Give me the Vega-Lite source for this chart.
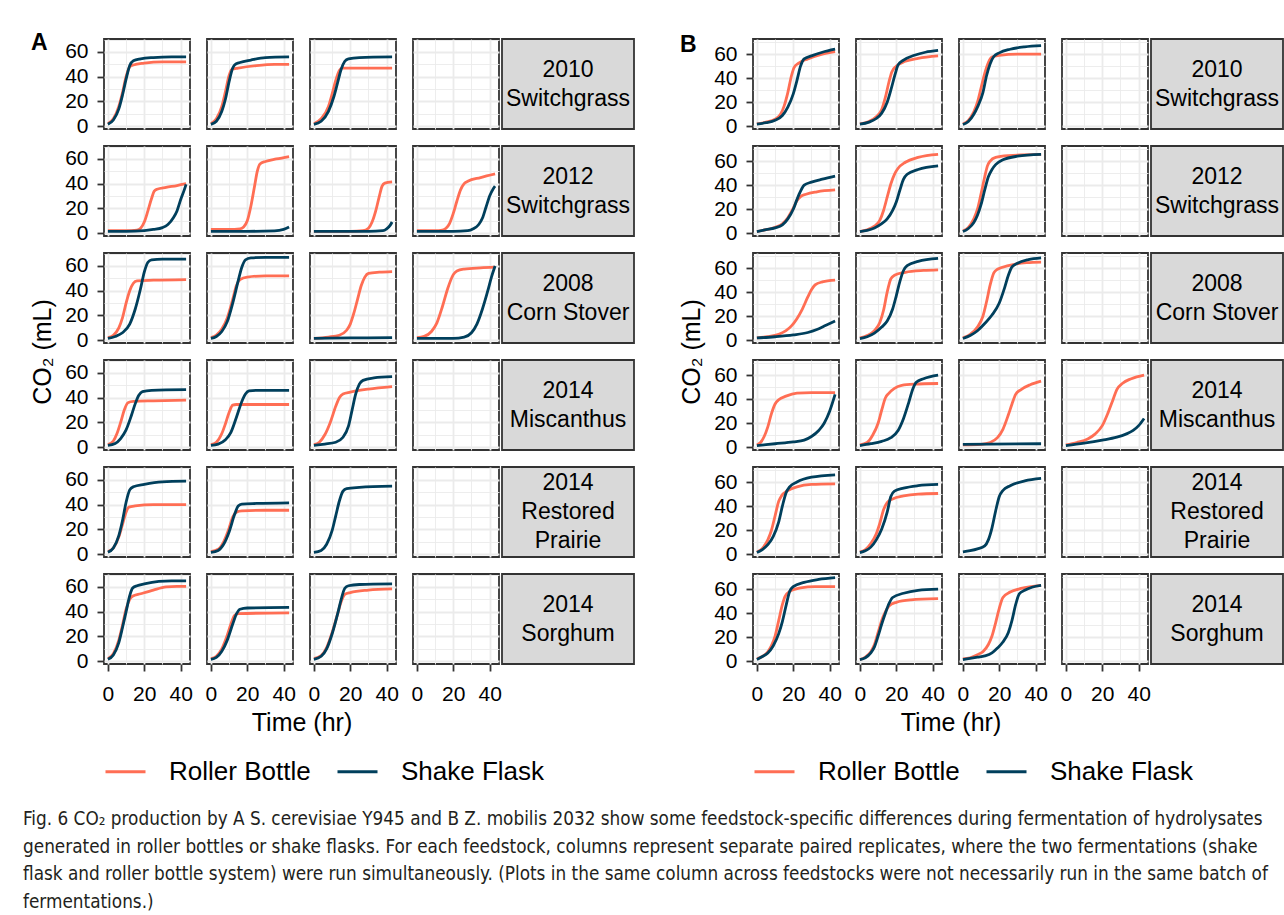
{
"$schema": "https://vega.github.io/schema/vega-lite/v6.json",
"padding": {"left": 22, "top": 28, "right": 2, "bottom": 4},
"config": {
  "font": "Liberation Sans",
  "view": {"stroke": "#333333", "strokeWidth": 1.8},
  "axis": {"gridColor": "#EBEBEB", "tickColor": "#333333", "tickWidth": 1.8, "tickSize": 7, "labelFontSize": 21, "labelColor": "#000000", "titleFontSize": 25, "titleFontWeight": "normal", "titleColor": "#000000", "domain": false, "labelFlush": false, "labelOverlap": false},
  "axisX": {"labelPadding": 12},
  "axisY": {"labelPadding": 9},
  "header": {"titleFontSize": 25, "titleFontWeight": "normal", "titleColor": "#000000", "titleFont": "Liberation Sans"},
  "legend": {"title": null, "orient": "bottom", "direction": "horizontal", "symbolType": "stroke", "symbolSize": 1600, "symbolStrokeWidth": 3, "labelFontSize": 26, "labelColor": "#000000", "labelOffset": 22, "columnPadding": 20, "offset": 14}
},
"datasets": {
"labels": [{"f":1,"label":"2010\nSwitchgrass"},{"f":2,"label":"2012\nSwitchgrass"},{"f":3,"label":"2008\nCorn Stover"},{"f":4,"label":"2014\nMiscanthus"},{"f":5,"label":"2014\nRestored\nPrairie"},{"f":6,"label":"2014\nSorghum"}],
"A": [
{"f":1,"c":1,"s":"RB","t":0,"y":2},{"f":1,"c":1,"s":"RB","t":3,"y":6},{"f":1,"c":1,"s":"RB","t":6,"y":16},{"f":1,"c":1,"s":"RB","t":8,"y":27},{"f":1,"c":1,"s":"RB","t":10,"y":40},{"f":1,"c":1,"s":"RB","t":12,"y":48},{"f":1,"c":1,"s":"RB","t":14,"y":49.5},{"f":1,"c":1,"s":"RB","t":20,"y":51},{"f":1,"c":1,"s":"RB","t":30,"y":52},{"f":1,"c":1,"s":"RB","t":43,"y":52},
{"f":1,"c":1,"s":"SF","t":0,"y":1.5},{"f":1,"c":1,"s":"SF","t":3,"y":5},{"f":1,"c":1,"s":"SF","t":6,"y":14},{"f":1,"c":1,"s":"SF","t":8,"y":25},{"f":1,"c":1,"s":"SF","t":10,"y":38},{"f":1,"c":1,"s":"SF","t":12,"y":49},{"f":1,"c":1,"s":"SF","t":14,"y":53},{"f":1,"c":1,"s":"SF","t":18,"y":54.5},{"f":1,"c":1,"s":"SF","t":25,"y":55.5},{"f":1,"c":1,"s":"SF","t":35,"y":56},{"f":1,"c":1,"s":"SF","t":43,"y":56},
{"f":1,"c":2,"s":"RB","t":0,"y":2},{"f":1,"c":2,"s":"RB","t":3,"y":6},{"f":1,"c":2,"s":"RB","t":6,"y":16},{"f":1,"c":2,"s":"RB","t":8,"y":28},{"f":1,"c":2,"s":"RB","t":10,"y":41},{"f":1,"c":2,"s":"RB","t":11.5,"y":46},{"f":1,"c":2,"s":"RB","t":15,"y":47},{"f":1,"c":2,"s":"RB","t":25,"y":49},{"f":1,"c":2,"s":"RB","t":35,"y":50},{"f":1,"c":2,"s":"RB","t":43,"y":50},
{"f":1,"c":2,"s":"SF","t":0,"y":1.5},{"f":1,"c":2,"s":"SF","t":3,"y":4},{"f":1,"c":2,"s":"SF","t":6,"y":12},{"f":1,"c":2,"s":"SF","t":8,"y":22},{"f":1,"c":2,"s":"SF","t":10,"y":36},{"f":1,"c":2,"s":"SF","t":12,"y":47},{"f":1,"c":2,"s":"SF","t":13,"y":49.5},{"f":1,"c":2,"s":"SF","t":16,"y":51.5},{"f":1,"c":2,"s":"SF","t":22,"y":53.5},{"f":1,"c":2,"s":"SF","t":30,"y":55.5},{"f":1,"c":2,"s":"SF","t":43,"y":56},
{"f":1,"c":3,"s":"RB","t":0,"y":2},{"f":1,"c":3,"s":"RB","t":4,"y":6},{"f":1,"c":3,"s":"RB","t":8,"y":16},{"f":1,"c":3,"s":"RB","t":10,"y":26},{"f":1,"c":3,"s":"RB","t":12,"y":37},{"f":1,"c":3,"s":"RB","t":14,"y":45},{"f":1,"c":3,"s":"RB","t":15.5,"y":47},{"f":1,"c":3,"s":"RB","t":20,"y":47},{"f":1,"c":3,"s":"RB","t":43,"y":47},
{"f":1,"c":3,"s":"SF","t":0,"y":1.5},{"f":1,"c":3,"s":"SF","t":4,"y":4},{"f":1,"c":3,"s":"SF","t":8,"y":12},{"f":1,"c":3,"s":"SF","t":11,"y":24},{"f":1,"c":3,"s":"SF","t":13,"y":35},{"f":1,"c":3,"s":"SF","t":15,"y":46},{"f":1,"c":3,"s":"SF","t":17,"y":52.5},{"f":1,"c":3,"s":"SF","t":19,"y":54.5},{"f":1,"c":3,"s":"SF","t":25,"y":55.5},{"f":1,"c":3,"s":"SF","t":43,"y":56},
{"f":1,"c":4,"s":"SF","t":0,"y":null},
{"f":2,"c":1,"s":"RB","t":0,"y":2},{"f":2,"c":1,"s":"RB","t":10,"y":2},{"f":2,"c":1,"s":"RB","t":16,"y":2.5},{"f":2,"c":1,"s":"RB","t":18,"y":4},{"f":2,"c":1,"s":"RB","t":20,"y":9},{"f":2,"c":1,"s":"RB","t":22,"y":18},{"f":2,"c":1,"s":"RB","t":24,"y":28},{"f":2,"c":1,"s":"RB","t":25.5,"y":34},{"f":2,"c":1,"s":"RB","t":27,"y":35.5},{"f":2,"c":1,"s":"RB","t":32,"y":37},{"f":2,"c":1,"s":"RB","t":38,"y":38.5},{"f":2,"c":1,"s":"RB","t":43,"y":40},
{"f":2,"c":1,"s":"SF","t":0,"y":1.5},{"f":2,"c":1,"s":"SF","t":10,"y":1.5},{"f":2,"c":1,"s":"SF","t":20,"y":2},{"f":2,"c":1,"s":"SF","t":25,"y":3},{"f":2,"c":1,"s":"SF","t":30,"y":4.5},{"f":2,"c":1,"s":"SF","t":33,"y":7},{"f":2,"c":1,"s":"SF","t":36,"y":12.5},{"f":2,"c":1,"s":"SF","t":38,"y":18},{"f":2,"c":1,"s":"SF","t":40,"y":27},{"f":2,"c":1,"s":"SF","t":42,"y":35},{"f":2,"c":1,"s":"SF","t":43,"y":39.5},
{"f":2,"c":2,"s":"RB","t":0,"y":3},{"f":2,"c":2,"s":"RB","t":10,"y":3},{"f":2,"c":2,"s":"RB","t":16,"y":3.5},{"f":2,"c":2,"s":"RB","t":18,"y":5},{"f":2,"c":2,"s":"RB","t":20,"y":10},{"f":2,"c":2,"s":"RB","t":22,"y":22},{"f":2,"c":2,"s":"RB","t":24,"y":38},{"f":2,"c":2,"s":"RB","t":25.5,"y":50},{"f":2,"c":2,"s":"RB","t":27,"y":56},{"f":2,"c":2,"s":"RB","t":30,"y":58},{"f":2,"c":2,"s":"RB","t":36,"y":60},{"f":2,"c":2,"s":"RB","t":43,"y":62},
{"f":2,"c":2,"s":"SF","t":0,"y":1.5},{"f":2,"c":2,"s":"SF","t":20,"y":1.5},{"f":2,"c":2,"s":"SF","t":35,"y":1.8},{"f":2,"c":2,"s":"SF","t":40,"y":3},{"f":2,"c":2,"s":"SF","t":43,"y":5},
{"f":2,"c":3,"s":"RB","t":0,"y":1.5},{"f":2,"c":3,"s":"RB","t":20,"y":1.5},{"f":2,"c":3,"s":"RB","t":27,"y":2},{"f":2,"c":3,"s":"RB","t":30,"y":4},{"f":2,"c":3,"s":"RB","t":32,"y":9},{"f":2,"c":3,"s":"RB","t":34,"y":18},{"f":2,"c":3,"s":"RB","t":36,"y":30},{"f":2,"c":3,"s":"RB","t":37.5,"y":38},{"f":2,"c":3,"s":"RB","t":39,"y":40.5},{"f":2,"c":3,"s":"RB","t":43,"y":41.5},
{"f":2,"c":3,"s":"SF","t":0,"y":1.5},{"f":2,"c":3,"s":"SF","t":30,"y":1.5},{"f":2,"c":3,"s":"SF","t":38,"y":2},{"f":2,"c":3,"s":"SF","t":40,"y":3.5},{"f":2,"c":3,"s":"SF","t":42,"y":6.5},{"f":2,"c":3,"s":"SF","t":43,"y":9},
{"f":2,"c":4,"s":"RB","t":0,"y":2},{"f":2,"c":4,"s":"RB","t":10,"y":2},{"f":2,"c":4,"s":"RB","t":14,"y":2.5},{"f":2,"c":4,"s":"RB","t":16,"y":4},{"f":2,"c":4,"s":"RB","t":18,"y":8},{"f":2,"c":4,"s":"RB","t":20,"y":16},{"f":2,"c":4,"s":"RB","t":22,"y":26},{"f":2,"c":4,"s":"RB","t":24,"y":35},{"f":2,"c":4,"s":"RB","t":26,"y":40},{"f":2,"c":4,"s":"RB","t":28,"y":42},{"f":2,"c":4,"s":"RB","t":35,"y":45},{"f":2,"c":4,"s":"RB","t":43,"y":48},
{"f":2,"c":4,"s":"SF","t":0,"y":1.5},{"f":2,"c":4,"s":"SF","t":20,"y":1.5},{"f":2,"c":4,"s":"SF","t":28,"y":2},{"f":2,"c":4,"s":"SF","t":31,"y":3.5},{"f":2,"c":4,"s":"SF","t":34,"y":7},{"f":2,"c":4,"s":"SF","t":36,"y":12},{"f":2,"c":4,"s":"SF","t":38,"y":21},{"f":2,"c":4,"s":"SF","t":40,"y":30},{"f":2,"c":4,"s":"SF","t":42,"y":36},{"f":2,"c":4,"s":"SF","t":43,"y":38},
{"f":3,"c":1,"s":"RB","t":0,"y":2},{"f":3,"c":1,"s":"RB","t":3,"y":4},{"f":3,"c":1,"s":"RB","t":6,"y":10},{"f":3,"c":1,"s":"RB","t":8,"y":18},{"f":3,"c":1,"s":"RB","t":10,"y":30},{"f":3,"c":1,"s":"RB","t":12,"y":40},{"f":3,"c":1,"s":"RB","t":14,"y":46},{"f":3,"c":1,"s":"RB","t":16,"y":48},{"f":3,"c":1,"s":"RB","t":25,"y":48.5},{"f":3,"c":1,"s":"RB","t":43,"y":49},
{"f":3,"c":1,"s":"SF","t":0,"y":1.5},{"f":3,"c":1,"s":"SF","t":4,"y":3},{"f":3,"c":1,"s":"SF","t":8,"y":6},{"f":3,"c":1,"s":"SF","t":12,"y":13},{"f":3,"c":1,"s":"SF","t":15,"y":25},{"f":3,"c":1,"s":"SF","t":18,"y":42},{"f":3,"c":1,"s":"SF","t":20,"y":55},{"f":3,"c":1,"s":"SF","t":22,"y":63},{"f":3,"c":1,"s":"SF","t":24,"y":65},{"f":3,"c":1,"s":"SF","t":30,"y":65.5},{"f":3,"c":1,"s":"SF","t":43,"y":65.5},
{"f":3,"c":2,"s":"RB","t":0,"y":2},{"f":3,"c":2,"s":"RB","t":3,"y":4},{"f":3,"c":2,"s":"RB","t":6,"y":9},{"f":3,"c":2,"s":"RB","t":9,"y":18},{"f":3,"c":2,"s":"RB","t":12,"y":33},{"f":3,"c":2,"s":"RB","t":14,"y":44},{"f":3,"c":2,"s":"RB","t":16,"y":49},{"f":3,"c":2,"s":"RB","t":20,"y":51},{"f":3,"c":2,"s":"RB","t":30,"y":52},{"f":3,"c":2,"s":"RB","t":43,"y":52},
{"f":3,"c":2,"s":"SF","t":0,"y":1.5},{"f":3,"c":2,"s":"SF","t":3,"y":3},{"f":3,"c":2,"s":"SF","t":6,"y":7},{"f":3,"c":2,"s":"SF","t":9,"y":15},{"f":3,"c":2,"s":"SF","t":12,"y":30},{"f":3,"c":2,"s":"SF","t":15,"y":48},{"f":3,"c":2,"s":"SF","t":17,"y":59},{"f":3,"c":2,"s":"SF","t":19,"y":65},{"f":3,"c":2,"s":"SF","t":22,"y":66.5},{"f":3,"c":2,"s":"SF","t":30,"y":67},{"f":3,"c":2,"s":"SF","t":43,"y":67},
{"f":3,"c":3,"s":"RB","t":0,"y":1.5},{"f":3,"c":3,"s":"RB","t":8,"y":2.5},{"f":3,"c":3,"s":"RB","t":14,"y":4},{"f":3,"c":3,"s":"RB","t":18,"y":8},{"f":3,"c":3,"s":"RB","t":20,"y":13},{"f":3,"c":3,"s":"RB","t":22,"y":22},{"f":3,"c":3,"s":"RB","t":24,"y":33},{"f":3,"c":3,"s":"RB","t":26,"y":44},{"f":3,"c":3,"s":"RB","t":28,"y":51},{"f":3,"c":3,"s":"RB","t":30,"y":54},{"f":3,"c":3,"s":"RB","t":36,"y":55},{"f":3,"c":3,"s":"RB","t":43,"y":55.5},
{"f":3,"c":3,"s":"SF","t":0,"y":1.5},{"f":3,"c":3,"s":"SF","t":20,"y":1.8},{"f":3,"c":3,"s":"SF","t":43,"y":2},
{"f":3,"c":4,"s":"RB","t":0,"y":2},{"f":3,"c":4,"s":"RB","t":4,"y":3},{"f":3,"c":4,"s":"RB","t":8,"y":7},{"f":3,"c":4,"s":"RB","t":11,"y":14},{"f":3,"c":4,"s":"RB","t":14,"y":27},{"f":3,"c":4,"s":"RB","t":17,"y":42},{"f":3,"c":4,"s":"RB","t":20,"y":53},{"f":3,"c":4,"s":"RB","t":22,"y":56},{"f":3,"c":4,"s":"RB","t":26,"y":57.5},{"f":3,"c":4,"s":"RB","t":35,"y":58.5},{"f":3,"c":4,"s":"RB","t":43,"y":59},
{"f":3,"c":4,"s":"SF","t":0,"y":1.5},{"f":3,"c":4,"s":"SF","t":20,"y":1.5},{"f":3,"c":4,"s":"SF","t":26,"y":2.5},{"f":3,"c":4,"s":"SF","t":30,"y":6},{"f":3,"c":4,"s":"SF","t":33,"y":13},{"f":3,"c":4,"s":"SF","t":36,"y":25},{"f":3,"c":4,"s":"SF","t":39,"y":40},{"f":3,"c":4,"s":"SF","t":41,"y":51},{"f":3,"c":4,"s":"SF","t":43,"y":60},
{"f":4,"c":1,"s":"RB","t":0,"y":2},{"f":4,"c":1,"s":"RB","t":3,"y":5},{"f":4,"c":1,"s":"RB","t":5,"y":11},{"f":4,"c":1,"s":"RB","t":7,"y":20},{"f":4,"c":1,"s":"RB","t":9,"y":30},{"f":4,"c":1,"s":"RB","t":11,"y":36},{"f":4,"c":1,"s":"RB","t":14,"y":37},{"f":4,"c":1,"s":"RB","t":25,"y":37.5},{"f":4,"c":1,"s":"RB","t":43,"y":38},
{"f":4,"c":1,"s":"SF","t":0,"y":1.5},{"f":4,"c":1,"s":"SF","t":4,"y":3},{"f":4,"c":1,"s":"SF","t":7,"y":7},{"f":4,"c":1,"s":"SF","t":10,"y":14},{"f":4,"c":1,"s":"SF","t":13,"y":26},{"f":4,"c":1,"s":"SF","t":15,"y":35},{"f":4,"c":1,"s":"SF","t":17,"y":42},{"f":4,"c":1,"s":"SF","t":19,"y":45},{"f":4,"c":1,"s":"SF","t":24,"y":46},{"f":4,"c":1,"s":"SF","t":43,"y":46.5},
{"f":4,"c":2,"s":"RB","t":0,"y":2},{"f":4,"c":2,"s":"RB","t":3,"y":4},{"f":4,"c":2,"s":"RB","t":6,"y":11},{"f":4,"c":2,"s":"RB","t":8,"y":19},{"f":4,"c":2,"s":"RB","t":10,"y":28},{"f":4,"c":2,"s":"RB","t":12,"y":34},{"f":4,"c":2,"s":"RB","t":14,"y":34.5},{"f":4,"c":2,"s":"RB","t":43,"y":34.5},
{"f":4,"c":2,"s":"SF","t":0,"y":1.5},{"f":4,"c":2,"s":"SF","t":4,"y":2.5},{"f":4,"c":2,"s":"SF","t":8,"y":6},{"f":4,"c":2,"s":"SF","t":11,"y":12},{"f":4,"c":2,"s":"SF","t":14,"y":24},{"f":4,"c":2,"s":"SF","t":17,"y":37},{"f":4,"c":2,"s":"SF","t":19,"y":43},{"f":4,"c":2,"s":"SF","t":21,"y":45.5},{"f":4,"c":2,"s":"SF","t":26,"y":46},{"f":4,"c":2,"s":"SF","t":43,"y":46},
{"f":4,"c":3,"s":"RB","t":0,"y":2},{"f":4,"c":3,"s":"RB","t":3,"y":4},{"f":4,"c":3,"s":"RB","t":6,"y":10},{"f":4,"c":3,"s":"RB","t":9,"y":20},{"f":4,"c":3,"s":"RB","t":12,"y":33},{"f":4,"c":3,"s":"RB","t":14,"y":40},{"f":4,"c":3,"s":"RB","t":16,"y":43},{"f":4,"c":3,"s":"RB","t":20,"y":44.5},{"f":4,"c":3,"s":"RB","t":30,"y":47},{"f":4,"c":3,"s":"RB","t":43,"y":49},
{"f":4,"c":3,"s":"SF","t":0,"y":1.5},{"f":4,"c":3,"s":"SF","t":6,"y":2.5},{"f":4,"c":3,"s":"SF","t":12,"y":4},{"f":4,"c":3,"s":"SF","t":16,"y":8},{"f":4,"c":3,"s":"SF","t":19,"y":17},{"f":4,"c":3,"s":"SF","t":21,"y":30},{"f":4,"c":3,"s":"SF","t":23,"y":43},{"f":4,"c":3,"s":"SF","t":25,"y":51},{"f":4,"c":3,"s":"SF","t":27,"y":54},{"f":4,"c":3,"s":"SF","t":33,"y":56},{"f":4,"c":3,"s":"SF","t":43,"y":57},
{"f":4,"c":4,"s":"SF","t":0,"y":null},
{"f":5,"c":1,"s":"RB","t":0,"y":2},{"f":5,"c":1,"s":"RB","t":3,"y":5},{"f":5,"c":1,"s":"RB","t":6,"y":14},{"f":5,"c":1,"s":"RB","t":8,"y":24},{"f":5,"c":1,"s":"RB","t":10,"y":34},{"f":5,"c":1,"s":"RB","t":11.5,"y":38},{"f":5,"c":1,"s":"RB","t":15,"y":39},{"f":5,"c":1,"s":"RB","t":25,"y":40},{"f":5,"c":1,"s":"RB","t":43,"y":40},
{"f":5,"c":1,"s":"SF","t":0,"y":1.5},{"f":5,"c":1,"s":"SF","t":3,"y":5},{"f":5,"c":1,"s":"SF","t":6,"y":15},{"f":5,"c":1,"s":"SF","t":8,"y":27},{"f":5,"c":1,"s":"SF","t":10,"y":42},{"f":5,"c":1,"s":"SF","t":12,"y":52},{"f":5,"c":1,"s":"SF","t":14,"y":54.5},{"f":5,"c":1,"s":"SF","t":20,"y":56.5},{"f":5,"c":1,"s":"SF","t":30,"y":58.5},{"f":5,"c":1,"s":"SF","t":43,"y":59},
{"f":5,"c":2,"s":"RB","t":0,"y":2},{"f":5,"c":2,"s":"RB","t":4,"y":4},{"f":5,"c":2,"s":"RB","t":7,"y":10},{"f":5,"c":2,"s":"RB","t":10,"y":21},{"f":5,"c":2,"s":"RB","t":12,"y":30},{"f":5,"c":2,"s":"RB","t":14,"y":34},{"f":5,"c":2,"s":"RB","t":17,"y":35},{"f":5,"c":2,"s":"RB","t":30,"y":35.5},{"f":5,"c":2,"s":"RB","t":43,"y":35.5},
{"f":5,"c":2,"s":"SF","t":0,"y":1.5},{"f":5,"c":2,"s":"SF","t":4,"y":3},{"f":5,"c":2,"s":"SF","t":7,"y":8},{"f":5,"c":2,"s":"SF","t":10,"y":18},{"f":5,"c":2,"s":"SF","t":13,"y":32},{"f":5,"c":2,"s":"SF","t":15,"y":39},{"f":5,"c":2,"s":"SF","t":17,"y":40.5},{"f":5,"c":2,"s":"SF","t":25,"y":41},{"f":5,"c":2,"s":"SF","t":43,"y":41.5},
{"f":5,"c":3,"s":"SF","t":0,"y":1.5},{"f":5,"c":3,"s":"SF","t":4,"y":3},{"f":5,"c":3,"s":"SF","t":7,"y":8},{"f":5,"c":3,"s":"SF","t":10,"y":19},{"f":5,"c":3,"s":"SF","t":12,"y":31},{"f":5,"c":3,"s":"SF","t":14,"y":43},{"f":5,"c":3,"s":"SF","t":16,"y":51},{"f":5,"c":3,"s":"SF","t":18,"y":53},{"f":5,"c":3,"s":"SF","t":25,"y":54},{"f":5,"c":3,"s":"SF","t":43,"y":55},
{"f":5,"c":4,"s":"SF","t":0,"y":null},
{"f":6,"c":1,"s":"RB","t":0,"y":2},{"f":6,"c":1,"s":"RB","t":3,"y":6},{"f":6,"c":1,"s":"RB","t":6,"y":17},{"f":6,"c":1,"s":"RB","t":8,"y":29},{"f":6,"c":1,"s":"RB","t":10,"y":42},{"f":6,"c":1,"s":"RB","t":12,"y":50},{"f":6,"c":1,"s":"RB","t":13.5,"y":52.5},{"f":6,"c":1,"s":"RB","t":18,"y":54.5},{"f":6,"c":1,"s":"RB","t":25,"y":57.5},{"f":6,"c":1,"s":"RB","t":32,"y":60},{"f":6,"c":1,"s":"RB","t":38,"y":60.5},{"f":6,"c":1,"s":"RB","t":43,"y":60.5},
{"f":6,"c":1,"s":"SF","t":0,"y":1.5},{"f":6,"c":1,"s":"SF","t":3,"y":5},{"f":6,"c":1,"s":"SF","t":6,"y":15},{"f":6,"c":1,"s":"SF","t":8,"y":27},{"f":6,"c":1,"s":"SF","t":10,"y":40},{"f":6,"c":1,"s":"SF","t":12,"y":53},{"f":6,"c":1,"s":"SF","t":13.5,"y":59},{"f":6,"c":1,"s":"SF","t":16,"y":61},{"f":6,"c":1,"s":"SF","t":20,"y":62.5},{"f":6,"c":1,"s":"SF","t":28,"y":64.5},{"f":6,"c":1,"s":"SF","t":35,"y":65},{"f":6,"c":1,"s":"SF","t":43,"y":65},
{"f":6,"c":2,"s":"RB","t":0,"y":2},{"f":6,"c":2,"s":"RB","t":3,"y":4},{"f":6,"c":2,"s":"RB","t":6,"y":10},{"f":6,"c":2,"s":"RB","t":9,"y":21},{"f":6,"c":2,"s":"RB","t":11,"y":30},{"f":6,"c":2,"s":"RB","t":13,"y":37},{"f":6,"c":2,"s":"RB","t":15,"y":38.5},{"f":6,"c":2,"s":"RB","t":43,"y":39},
{"f":6,"c":2,"s":"SF","t":0,"y":1.5},{"f":6,"c":2,"s":"SF","t":3,"y":3},{"f":6,"c":2,"s":"SF","t":6,"y":8},{"f":6,"c":2,"s":"SF","t":9,"y":17},{"f":6,"c":2,"s":"SF","t":12,"y":30},{"f":6,"c":2,"s":"SF","t":14,"y":38},{"f":6,"c":2,"s":"SF","t":16,"y":42},{"f":6,"c":2,"s":"SF","t":20,"y":43},{"f":6,"c":2,"s":"SF","t":43,"y":43.5},
{"f":6,"c":3,"s":"RB","t":0,"y":2},{"f":6,"c":3,"s":"RB","t":4,"y":4.5},{"f":6,"c":3,"s":"RB","t":7,"y":11},{"f":6,"c":3,"s":"RB","t":10,"y":23},{"f":6,"c":3,"s":"RB","t":13,"y":38},{"f":6,"c":3,"s":"RB","t":15,"y":48},{"f":6,"c":3,"s":"RB","t":17,"y":54},{"f":6,"c":3,"s":"RB","t":20,"y":55.5},{"f":6,"c":3,"s":"RB","t":30,"y":57.5},{"f":6,"c":3,"s":"RB","t":43,"y":58.5},
{"f":6,"c":3,"s":"SF","t":0,"y":1.5},{"f":6,"c":3,"s":"SF","t":4,"y":4},{"f":6,"c":3,"s":"SF","t":7,"y":10},{"f":6,"c":3,"s":"SF","t":10,"y":22},{"f":6,"c":3,"s":"SF","t":13,"y":38},{"f":6,"c":3,"s":"SF","t":15,"y":50},{"f":6,"c":3,"s":"SF","t":17,"y":59},{"f":6,"c":3,"s":"SF","t":19,"y":61},{"f":6,"c":3,"s":"SF","t":25,"y":62},{"f":6,"c":3,"s":"SF","t":43,"y":62.5},
{"f":6,"c":4,"s":"SF","t":0,"y":null}
],
"B": [
{"f":1,"c":1,"s":"RB","t":0,"y":2},{"f":1,"c":1,"s":"RB","t":5,"y":3.5},{"f":1,"c":1,"s":"RB","t":10,"y":6},{"f":1,"c":1,"s":"RB","t":13,"y":10},{"f":1,"c":1,"s":"RB","t":15,"y":17},{"f":1,"c":1,"s":"RB","t":17,"y":28},{"f":1,"c":1,"s":"RB","t":19,"y":42},{"f":1,"c":1,"s":"RB","t":20.5,"y":49},{"f":1,"c":1,"s":"RB","t":23,"y":52.5},{"f":1,"c":1,"s":"RB","t":28,"y":56},{"f":1,"c":1,"s":"RB","t":35,"y":59.5},{"f":1,"c":1,"s":"RB","t":43,"y":62},
{"f":1,"c":1,"s":"SF","t":0,"y":1.8},{"f":1,"c":1,"s":"SF","t":5,"y":3},{"f":1,"c":1,"s":"SF","t":10,"y":5},{"f":1,"c":1,"s":"SF","t":14,"y":9},{"f":1,"c":1,"s":"SF","t":17,"y":16},{"f":1,"c":1,"s":"SF","t":20,"y":27},{"f":1,"c":1,"s":"SF","t":22,"y":38},{"f":1,"c":1,"s":"SF","t":24,"y":50},{"f":1,"c":1,"s":"SF","t":26,"y":56},{"f":1,"c":1,"s":"SF","t":30,"y":58.5},{"f":1,"c":1,"s":"SF","t":36,"y":61.5},{"f":1,"c":1,"s":"SF","t":43,"y":64},
{"f":1,"c":2,"s":"RB","t":0,"y":2},{"f":1,"c":2,"s":"RB","t":5,"y":4},{"f":1,"c":2,"s":"RB","t":9,"y":8},{"f":1,"c":2,"s":"RB","t":12,"y":14},{"f":1,"c":2,"s":"RB","t":14,"y":24},{"f":1,"c":2,"s":"RB","t":16,"y":37},{"f":1,"c":2,"s":"RB","t":17.5,"y":45},{"f":1,"c":2,"s":"RB","t":20,"y":50},{"f":1,"c":2,"s":"RB","t":25,"y":54},{"f":1,"c":2,"s":"RB","t":32,"y":56.5},{"f":1,"c":2,"s":"RB","t":43,"y":58.5},
{"f":1,"c":2,"s":"SF","t":0,"y":1.8},{"f":1,"c":2,"s":"SF","t":5,"y":3.5},{"f":1,"c":2,"s":"SF","t":9,"y":6.5},{"f":1,"c":2,"s":"SF","t":12,"y":11},{"f":1,"c":2,"s":"SF","t":15,"y":20},{"f":1,"c":2,"s":"SF","t":17,"y":30},{"f":1,"c":2,"s":"SF","t":19.5,"y":44},{"f":1,"c":2,"s":"SF","t":21,"y":51},{"f":1,"c":2,"s":"SF","t":24,"y":55},{"f":1,"c":2,"s":"SF","t":30,"y":59},{"f":1,"c":2,"s":"SF","t":36,"y":61.5},{"f":1,"c":2,"s":"SF","t":43,"y":63},
{"f":1,"c":3,"s":"RB","t":0,"y":2},{"f":1,"c":3,"s":"RB","t":3,"y":5},{"f":1,"c":3,"s":"RB","t":6,"y":12},{"f":1,"c":3,"s":"RB","t":8,"y":20},{"f":1,"c":3,"s":"RB","t":10,"y":32},{"f":1,"c":3,"s":"RB","t":12,"y":44},{"f":1,"c":3,"s":"RB","t":14,"y":53},{"f":1,"c":3,"s":"RB","t":16,"y":57.5},{"f":1,"c":3,"s":"RB","t":20,"y":59},{"f":1,"c":3,"s":"RB","t":30,"y":60},{"f":1,"c":3,"s":"RB","t":43,"y":60},
{"f":1,"c":3,"s":"SF","t":0,"y":1.5},{"f":1,"c":3,"s":"SF","t":3,"y":4},{"f":1,"c":3,"s":"SF","t":6,"y":10},{"f":1,"c":3,"s":"SF","t":8,"y":16},{"f":1,"c":3,"s":"SF","t":11,"y":28},{"f":1,"c":3,"s":"SF","t":13,"y":42},{"f":1,"c":3,"s":"SF","t":15,"y":52},{"f":1,"c":3,"s":"SF","t":17,"y":58},{"f":1,"c":3,"s":"SF","t":20,"y":61},{"f":1,"c":3,"s":"SF","t":26,"y":64},{"f":1,"c":3,"s":"SF","t":34,"y":66},{"f":1,"c":3,"s":"SF","t":43,"y":67},
{"f":1,"c":4,"s":"SF","t":0,"y":null},
{"f":2,"c":1,"s":"RB","t":0,"y":1.5},{"f":2,"c":1,"s":"RB","t":5,"y":3},{"f":2,"c":1,"s":"RB","t":10,"y":5},{"f":2,"c":1,"s":"RB","t":14,"y":8},{"f":2,"c":1,"s":"RB","t":17,"y":13},{"f":2,"c":1,"s":"RB","t":20,"y":21},{"f":2,"c":1,"s":"RB","t":22,"y":27},{"f":2,"c":1,"s":"RB","t":24,"y":30.5},{"f":2,"c":1,"s":"RB","t":27,"y":32.5},{"f":2,"c":1,"s":"RB","t":33,"y":34.5},{"f":2,"c":1,"s":"RB","t":43,"y":36},
{"f":2,"c":1,"s":"SF","t":0,"y":1.5},{"f":2,"c":1,"s":"SF","t":5,"y":3},{"f":2,"c":1,"s":"SF","t":10,"y":4.5},{"f":2,"c":1,"s":"SF","t":14,"y":7},{"f":2,"c":1,"s":"SF","t":17,"y":12},{"f":2,"c":1,"s":"SF","t":20,"y":20},{"f":2,"c":1,"s":"SF","t":22,"y":28},{"f":2,"c":1,"s":"SF","t":24,"y":35},{"f":2,"c":1,"s":"SF","t":26,"y":40},{"f":2,"c":1,"s":"SF","t":30,"y":42.5},{"f":2,"c":1,"s":"SF","t":36,"y":45},{"f":2,"c":1,"s":"SF","t":43,"y":47.5},
{"f":2,"c":2,"s":"RB","t":0,"y":1.5},{"f":2,"c":2,"s":"RB","t":4,"y":3},{"f":2,"c":2,"s":"RB","t":8,"y":6},{"f":2,"c":2,"s":"RB","t":11,"y":11},{"f":2,"c":2,"s":"RB","t":13,"y":19},{"f":2,"c":2,"s":"RB","t":15,"y":30},{"f":2,"c":2,"s":"RB","t":17,"y":41},{"f":2,"c":2,"s":"RB","t":19,"y":49},{"f":2,"c":2,"s":"RB","t":21,"y":54},{"f":2,"c":2,"s":"RB","t":25,"y":59},{"f":2,"c":2,"s":"RB","t":32,"y":63},{"f":2,"c":2,"s":"RB","t":43,"y":65.5},
{"f":2,"c":2,"s":"SF","t":0,"y":1.5},{"f":2,"c":2,"s":"SF","t":4,"y":2.5},{"f":2,"c":2,"s":"SF","t":8,"y":4.5},{"f":2,"c":2,"s":"SF","t":12,"y":8},{"f":2,"c":2,"s":"SF","t":15,"y":12},{"f":2,"c":2,"s":"SF","t":18,"y":19},{"f":2,"c":2,"s":"SF","t":20,"y":26},{"f":2,"c":2,"s":"SF","t":22,"y":36},{"f":2,"c":2,"s":"SF","t":24,"y":45},{"f":2,"c":2,"s":"SF","t":26,"y":49},{"f":2,"c":2,"s":"SF","t":32,"y":53},{"f":2,"c":2,"s":"SF","t":43,"y":56},
{"f":2,"c":3,"s":"RB","t":0,"y":2},{"f":2,"c":3,"s":"RB","t":3,"y":5},{"f":2,"c":3,"s":"RB","t":6,"y":12},{"f":2,"c":3,"s":"RB","t":8,"y":20},{"f":2,"c":3,"s":"RB","t":10,"y":33},{"f":2,"c":3,"s":"RB","t":12,"y":47},{"f":2,"c":3,"s":"RB","t":13.5,"y":56},{"f":2,"c":3,"s":"RB","t":15,"y":60},{"f":2,"c":3,"s":"RB","t":18,"y":63},{"f":2,"c":3,"s":"RB","t":25,"y":64.5},{"f":2,"c":3,"s":"RB","t":43,"y":65.5},
{"f":2,"c":3,"s":"SF","t":0,"y":1.5},{"f":2,"c":3,"s":"SF","t":3,"y":4},{"f":2,"c":3,"s":"SF","t":6,"y":9},{"f":2,"c":3,"s":"SF","t":8,"y":15},{"f":2,"c":3,"s":"SF","t":10,"y":24},{"f":2,"c":3,"s":"SF","t":12,"y":36},{"f":2,"c":3,"s":"SF","t":14,"y":47},{"f":2,"c":3,"s":"SF","t":16,"y":53},{"f":2,"c":3,"s":"SF","t":18,"y":57},{"f":2,"c":3,"s":"SF","t":22,"y":61},{"f":2,"c":3,"s":"SF","t":30,"y":64},{"f":2,"c":3,"s":"SF","t":43,"y":65.5},
{"f":2,"c":4,"s":"SF","t":0,"y":null},
{"f":3,"c":1,"s":"RB","t":0,"y":2},{"f":3,"c":1,"s":"RB","t":6,"y":3},{"f":3,"c":1,"s":"RB","t":12,"y":5},{"f":3,"c":1,"s":"RB","t":16,"y":8},{"f":3,"c":1,"s":"RB","t":19,"y":12},{"f":3,"c":1,"s":"RB","t":22,"y":18},{"f":3,"c":1,"s":"RB","t":25,"y":26},{"f":3,"c":1,"s":"RB","t":28,"y":36},{"f":3,"c":1,"s":"RB","t":30,"y":42},{"f":3,"c":1,"s":"RB","t":32,"y":46},{"f":3,"c":1,"s":"RB","t":36,"y":48.5},{"f":3,"c":1,"s":"RB","t":43,"y":50},
{"f":3,"c":1,"s":"SF","t":0,"y":2},{"f":3,"c":1,"s":"SF","t":10,"y":3},{"f":3,"c":1,"s":"SF","t":20,"y":4.5},{"f":3,"c":1,"s":"SF","t":28,"y":6.5},{"f":3,"c":1,"s":"SF","t":33,"y":9},{"f":3,"c":1,"s":"SF","t":38,"y":12.5},{"f":3,"c":1,"s":"SF","t":43,"y":16},
{"f":3,"c":2,"s":"RB","t":0,"y":2},{"f":3,"c":2,"s":"RB","t":4,"y":4},{"f":3,"c":2,"s":"RB","t":8,"y":8},{"f":3,"c":2,"s":"RB","t":11,"y":15},{"f":3,"c":2,"s":"RB","t":13,"y":25},{"f":3,"c":2,"s":"RB","t":15,"y":40},{"f":3,"c":2,"s":"RB","t":17,"y":51},{"f":3,"c":2,"s":"RB","t":19,"y":54},{"f":3,"c":2,"s":"RB","t":25,"y":56.5},{"f":3,"c":2,"s":"RB","t":35,"y":58},{"f":3,"c":2,"s":"RB","t":43,"y":58.5},
{"f":3,"c":2,"s":"SF","t":0,"y":1.5},{"f":3,"c":2,"s":"SF","t":4,"y":3},{"f":3,"c":2,"s":"SF","t":8,"y":6},{"f":3,"c":2,"s":"SF","t":12,"y":11},{"f":3,"c":2,"s":"SF","t":15,"y":16},{"f":3,"c":2,"s":"SF","t":18,"y":26},{"f":3,"c":2,"s":"SF","t":20,"y":37},{"f":3,"c":2,"s":"SF","t":22,"y":49},{"f":3,"c":2,"s":"SF","t":24,"y":58},{"f":3,"c":2,"s":"SF","t":26,"y":62},{"f":3,"c":2,"s":"SF","t":32,"y":65.5},{"f":3,"c":2,"s":"SF","t":43,"y":68},
{"f":3,"c":3,"s":"RB","t":0,"y":2},{"f":3,"c":3,"s":"RB","t":4,"y":5},{"f":3,"c":3,"s":"RB","t":8,"y":11},{"f":3,"c":3,"s":"RB","t":11,"y":20},{"f":3,"c":3,"s":"RB","t":13,"y":32},{"f":3,"c":3,"s":"RB","t":15,"y":46},{"f":3,"c":3,"s":"RB","t":17,"y":56},{"f":3,"c":3,"s":"RB","t":19,"y":59},{"f":3,"c":3,"s":"RB","t":25,"y":62},{"f":3,"c":3,"s":"RB","t":35,"y":64.5},{"f":3,"c":3,"s":"RB","t":43,"y":65},
{"f":3,"c":3,"s":"SF","t":0,"y":1.5},{"f":3,"c":3,"s":"SF","t":4,"y":4},{"f":3,"c":3,"s":"SF","t":8,"y":8},{"f":3,"c":3,"s":"SF","t":12,"y":14},{"f":3,"c":3,"s":"SF","t":16,"y":21},{"f":3,"c":3,"s":"SF","t":20,"y":31},{"f":3,"c":3,"s":"SF","t":23,"y":44},{"f":3,"c":3,"s":"SF","t":25,"y":54},{"f":3,"c":3,"s":"SF","t":27,"y":61},{"f":3,"c":3,"s":"SF","t":30,"y":64},{"f":3,"c":3,"s":"SF","t":36,"y":67},{"f":3,"c":3,"s":"SF","t":43,"y":68.5},
{"f":3,"c":4,"s":"SF","t":0,"y":null},
{"f":4,"c":1,"s":"RB","t":0,"y":2},{"f":4,"c":1,"s":"RB","t":2,"y":4},{"f":4,"c":1,"s":"RB","t":4,"y":9},{"f":4,"c":1,"s":"RB","t":6,"y":17},{"f":4,"c":1,"s":"RB","t":8,"y":28},{"f":4,"c":1,"s":"RB","t":10,"y":36},{"f":4,"c":1,"s":"RB","t":12,"y":39.5},{"f":4,"c":1,"s":"RB","t":16,"y":42.5},{"f":4,"c":1,"s":"RB","t":22,"y":45},{"f":4,"c":1,"s":"RB","t":30,"y":45.5},{"f":4,"c":1,"s":"RB","t":43,"y":45.5},
{"f":4,"c":1,"s":"SF","t":0,"y":1.5},{"f":4,"c":1,"s":"SF","t":10,"y":3},{"f":4,"c":1,"s":"SF","t":20,"y":4.5},{"f":4,"c":1,"s":"SF","t":26,"y":6},{"f":4,"c":1,"s":"SF","t":30,"y":9},{"f":4,"c":1,"s":"SF","t":34,"y":14},{"f":4,"c":1,"s":"SF","t":37,"y":20},{"f":4,"c":1,"s":"SF","t":40,"y":30},{"f":4,"c":1,"s":"SF","t":43,"y":44},
{"f":4,"c":2,"s":"RB","t":0,"y":2},{"f":4,"c":2,"s":"RB","t":4,"y":4},{"f":4,"c":2,"s":"RB","t":7,"y":10},{"f":4,"c":2,"s":"RB","t":10,"y":20},{"f":4,"c":2,"s":"RB","t":12,"y":31},{"f":4,"c":2,"s":"RB","t":14,"y":41},{"f":4,"c":2,"s":"RB","t":16,"y":45},{"f":4,"c":2,"s":"RB","t":19,"y":49},{"f":4,"c":2,"s":"RB","t":23,"y":51.5},{"f":4,"c":2,"s":"RB","t":30,"y":52.5},{"f":4,"c":2,"s":"RB","t":43,"y":53},
{"f":4,"c":2,"s":"SF","t":0,"y":1.5},{"f":4,"c":2,"s":"SF","t":6,"y":3},{"f":4,"c":2,"s":"SF","t":12,"y":5},{"f":4,"c":2,"s":"SF","t":17,"y":8},{"f":4,"c":2,"s":"SF","t":21,"y":14},{"f":4,"c":2,"s":"SF","t":24,"y":24},{"f":4,"c":2,"s":"SF","t":27,"y":38},{"f":4,"c":2,"s":"SF","t":29,"y":48},{"f":4,"c":2,"s":"SF","t":31,"y":54},{"f":4,"c":2,"s":"SF","t":35,"y":57},{"f":4,"c":2,"s":"SF","t":43,"y":60},
{"f":4,"c":3,"s":"RB","t":0,"y":2},{"f":4,"c":3,"s":"RB","t":10,"y":2.5},{"f":4,"c":3,"s":"RB","t":15,"y":4},{"f":4,"c":3,"s":"RB","t":19,"y":8},{"f":4,"c":3,"s":"RB","t":22,"y":15},{"f":4,"c":3,"s":"RB","t":25,"y":27},{"f":4,"c":3,"s":"RB","t":27,"y":36},{"f":4,"c":3,"s":"RB","t":29,"y":44},{"f":4,"c":3,"s":"RB","t":32,"y":48},{"f":4,"c":3,"s":"RB","t":37,"y":52},{"f":4,"c":3,"s":"RB","t":43,"y":55},
{"f":4,"c":3,"s":"SF","t":0,"y":2.5},{"f":4,"c":3,"s":"SF","t":43,"y":3},
{"f":4,"c":4,"s":"RB","t":0,"y":2},{"f":4,"c":4,"s":"RB","t":6,"y":4},{"f":4,"c":4,"s":"RB","t":12,"y":7},{"f":4,"c":4,"s":"RB","t":16,"y":11},{"f":4,"c":4,"s":"RB","t":20,"y":18},{"f":4,"c":4,"s":"RB","t":23,"y":28},{"f":4,"c":4,"s":"RB","t":26,"y":40},{"f":4,"c":4,"s":"RB","t":28,"y":48},{"f":4,"c":4,"s":"RB","t":31,"y":53},{"f":4,"c":4,"s":"RB","t":36,"y":57},{"f":4,"c":4,"s":"RB","t":43,"y":60},
{"f":4,"c":4,"s":"SF","t":0,"y":1.5},{"f":4,"c":4,"s":"SF","t":10,"y":3.5},{"f":4,"c":4,"s":"SF","t":20,"y":6},{"f":4,"c":4,"s":"SF","t":28,"y":8.5},{"f":4,"c":4,"s":"SF","t":33,"y":11},{"f":4,"c":4,"s":"SF","t":37,"y":14},{"f":4,"c":4,"s":"SF","t":40,"y":18},{"f":4,"c":4,"s":"SF","t":43,"y":24},
{"f":5,"c":1,"s":"RB","t":0,"y":2},{"f":5,"c":1,"s":"RB","t":3,"y":5},{"f":5,"c":1,"s":"RB","t":6,"y":12},{"f":5,"c":1,"s":"RB","t":8,"y":20},{"f":5,"c":1,"s":"RB","t":10,"y":32},{"f":5,"c":1,"s":"RB","t":12,"y":44},{"f":5,"c":1,"s":"RB","t":13.5,"y":48.5},{"f":5,"c":1,"s":"RB","t":17,"y":53},{"f":5,"c":1,"s":"RB","t":22,"y":56},{"f":5,"c":1,"s":"RB","t":30,"y":58},{"f":5,"c":1,"s":"RB","t":43,"y":58.5},
{"f":5,"c":1,"s":"SF","t":0,"y":1.5},{"f":5,"c":1,"s":"SF","t":3,"y":4},{"f":5,"c":1,"s":"SF","t":6,"y":8},{"f":5,"c":1,"s":"SF","t":9,"y":15},{"f":5,"c":1,"s":"SF","t":12,"y":27},{"f":5,"c":1,"s":"SF","t":14,"y":40},{"f":5,"c":1,"s":"SF","t":16,"y":51},{"f":5,"c":1,"s":"SF","t":18,"y":56},{"f":5,"c":1,"s":"SF","t":22,"y":60},{"f":5,"c":1,"s":"SF","t":30,"y":64},{"f":5,"c":1,"s":"SF","t":43,"y":66},
{"f":5,"c":2,"s":"RB","t":0,"y":2},{"f":5,"c":2,"s":"RB","t":3,"y":4},{"f":5,"c":2,"s":"RB","t":6,"y":9},{"f":5,"c":2,"s":"RB","t":9,"y":17},{"f":5,"c":2,"s":"RB","t":11,"y":26},{"f":5,"c":2,"s":"RB","t":13,"y":37},{"f":5,"c":2,"s":"RB","t":15,"y":43},{"f":5,"c":2,"s":"RB","t":18,"y":46},{"f":5,"c":2,"s":"RB","t":24,"y":48.5},{"f":5,"c":2,"s":"RB","t":32,"y":50},{"f":5,"c":2,"s":"RB","t":43,"y":50.5},
{"f":5,"c":2,"s":"SF","t":0,"y":1.5},{"f":5,"c":2,"s":"SF","t":3,"y":3},{"f":5,"c":2,"s":"SF","t":6,"y":6},{"f":5,"c":2,"s":"SF","t":9,"y":12},{"f":5,"c":2,"s":"SF","t":12,"y":21},{"f":5,"c":2,"s":"SF","t":15,"y":35},{"f":5,"c":2,"s":"SF","t":17,"y":48},{"f":5,"c":2,"s":"SF","t":19,"y":52.5},{"f":5,"c":2,"s":"SF","t":24,"y":55},{"f":5,"c":2,"s":"SF","t":32,"y":57},{"f":5,"c":2,"s":"SF","t":43,"y":58},
{"f":5,"c":3,"s":"SF","t":0,"y":2},{"f":5,"c":3,"s":"SF","t":4,"y":3},{"f":5,"c":3,"s":"SF","t":8,"y":4.5},{"f":5,"c":3,"s":"SF","t":12,"y":7},{"f":5,"c":3,"s":"SF","t":14,"y":12},{"f":5,"c":3,"s":"SF","t":16,"y":22},{"f":5,"c":3,"s":"SF","t":18,"y":36},{"f":5,"c":3,"s":"SF","t":20,"y":48},{"f":5,"c":3,"s":"SF","t":22,"y":53},{"f":5,"c":3,"s":"SF","t":26,"y":57},{"f":5,"c":3,"s":"SF","t":34,"y":61},{"f":5,"c":3,"s":"SF","t":43,"y":63},
{"f":5,"c":4,"s":"SF","t":0,"y":null},
{"f":6,"c":1,"s":"RB","t":0,"y":2},{"f":6,"c":1,"s":"RB","t":3,"y":4},{"f":6,"c":1,"s":"RB","t":6,"y":8},{"f":6,"c":1,"s":"RB","t":8,"y":13},{"f":6,"c":1,"s":"RB","t":10,"y":21},{"f":6,"c":1,"s":"RB","t":12,"y":34},{"f":6,"c":1,"s":"RB","t":14,"y":47},{"f":6,"c":1,"s":"RB","t":15.5,"y":54},{"f":6,"c":1,"s":"RB","t":18,"y":58},{"f":6,"c":1,"s":"RB","t":24,"y":61},{"f":6,"c":1,"s":"RB","t":32,"y":62},{"f":6,"c":1,"s":"RB","t":43,"y":62},
{"f":6,"c":1,"s":"SF","t":0,"y":1.5},{"f":6,"c":1,"s":"SF","t":3,"y":4},{"f":6,"c":1,"s":"SF","t":6,"y":7},{"f":6,"c":1,"s":"SF","t":9,"y":13},{"f":6,"c":1,"s":"SF","t":12,"y":23},{"f":6,"c":1,"s":"SF","t":14,"y":33},{"f":6,"c":1,"s":"SF","t":16,"y":46},{"f":6,"c":1,"s":"SF","t":18,"y":58},{"f":6,"c":1,"s":"SF","t":20,"y":62},{"f":6,"c":1,"s":"SF","t":26,"y":65.5},{"f":6,"c":1,"s":"SF","t":34,"y":68},{"f":6,"c":1,"s":"SF","t":43,"y":69.5},
{"f":6,"c":2,"s":"RB","t":0,"y":1.5},{"f":6,"c":2,"s":"RB","t":3,"y":3.5},{"f":6,"c":2,"s":"RB","t":6,"y":8},{"f":6,"c":2,"s":"RB","t":8,"y":14},{"f":6,"c":2,"s":"RB","t":10,"y":24},{"f":6,"c":2,"s":"RB","t":12,"y":34},{"f":6,"c":2,"s":"RB","t":14,"y":41},{"f":6,"c":2,"s":"RB","t":16,"y":46},{"f":6,"c":2,"s":"RB","t":20,"y":49},{"f":6,"c":2,"s":"RB","t":28,"y":51},{"f":6,"c":2,"s":"RB","t":43,"y":52},
{"f":6,"c":2,"s":"SF","t":0,"y":1.5},{"f":6,"c":2,"s":"SF","t":3,"y":3},{"f":6,"c":2,"s":"SF","t":6,"y":7},{"f":6,"c":2,"s":"SF","t":8,"y":12},{"f":6,"c":2,"s":"SF","t":10,"y":21},{"f":6,"c":2,"s":"SF","t":12,"y":31},{"f":6,"c":2,"s":"SF","t":14,"y":40},{"f":6,"c":2,"s":"SF","t":16,"y":48},{"f":6,"c":2,"s":"SF","t":18,"y":53},{"f":6,"c":2,"s":"SF","t":24,"y":56.5},{"f":6,"c":2,"s":"SF","t":32,"y":59},{"f":6,"c":2,"s":"SF","t":43,"y":60},
{"f":6,"c":3,"s":"RB","t":0,"y":2},{"f":6,"c":3,"s":"RB","t":4,"y":3},{"f":6,"c":3,"s":"RB","t":8,"y":5.5},{"f":6,"c":3,"s":"RB","t":11,"y":8},{"f":6,"c":3,"s":"RB","t":14,"y":14},{"f":6,"c":3,"s":"RB","t":16,"y":21},{"f":6,"c":3,"s":"RB","t":18,"y":32},{"f":6,"c":3,"s":"RB","t":20,"y":44},{"f":6,"c":3,"s":"RB","t":22,"y":53},{"f":6,"c":3,"s":"RB","t":26,"y":57.5},{"f":6,"c":3,"s":"RB","t":32,"y":60.5},{"f":6,"c":3,"s":"RB","t":43,"y":63},
{"f":6,"c":3,"s":"SF","t":0,"y":1.5},{"f":6,"c":3,"s":"SF","t":4,"y":2.5},{"f":6,"c":3,"s":"SF","t":8,"y":3.5},{"f":6,"c":3,"s":"SF","t":12,"y":4.5},{"f":6,"c":3,"s":"SF","t":16,"y":7},{"f":6,"c":3,"s":"SF","t":19,"y":11},{"f":6,"c":3,"s":"SF","t":22,"y":16},{"f":6,"c":3,"s":"SF","t":25,"y":24},{"f":6,"c":3,"s":"SF","t":27,"y":34},{"f":6,"c":3,"s":"SF","t":29,"y":47},{"f":6,"c":3,"s":"SF","t":31,"y":56},{"f":6,"c":3,"s":"SF","t":34,"y":59},{"f":6,"c":3,"s":"SF","t":38,"y":61.5},{"f":6,"c":3,"s":"SF","t":43,"y":63},
{"f":6,"c":4,"s":"SF","t":0,"y":null}
]
},
"title": {
  "text": ["Fig. 6  CO₂ production by A S. cerevisiae Y945 and B Z. mobilis 2032 show some feedstock-specific differences during fermentation of hydrolysates", "generated in roller bottles or shake flasks. For each feedstock, columns represent separate paired replicates, where the two fermentations (shake", "flask and roller bottle system) were run simultaneously. (Plots in the same column across feedstocks were not necessarily run in the same batch of", "fermentations.)"],
  "orient": "bottom", "anchor": "start", "frame": "bounds",
  "font": "DejaVu Sans Condensed, Liberation Sans, sans-serif", "fontSize": 18.8, "fontWeight": "normal", "lineHeight": 27.5, "color": "#231f20", "offset": 25, "dx": -8
},
"hconcat": [
  {
    "title": {"text": "A", "anchor": "start", "frame": "bounds", "fontSize": 23, "fontWeight": "bold", "color": "#000000", "offset": -26},
    "spacing": -2,
    "hconcat": [
      {
        "data": {"name": "A"},
        "facet": {
          "row": {"field": "f", "type": "ordinal", "header": {"labels": false, "labelPadding": 0, "title": "CO₂ (mL)", "titlePadding": -2}},
          "column": {"field": "c", "type": "ordinal", "header": {"labels": false, "labelPadding": 0, "title": "Time (hr)", "titleOrient": "bottom", "titlePadding": -3}}
        },
        "spacing": {"row": 17, "column": 17},
        "bounds": "flush",
        "spec": {
          "width": 86, "height": 90,
          "mark": {"type": "line", "interpolate": "monotone", "strokeWidth": 2.8, "invalid": "break-paths-show-domains"},
          "encoding": {
            "x": {"field": "t", "type": "quantitative", "scale": {"domain": [-2.15, 45.15], "nice": false, "zero": false},
              "axis": {"title": null, "values": [0, 10, 20, 30, 40], "labelExpr": "datum.value % 20 === 0 ? datum.label : ''", "tickOpacity": {"condition": {"test": "datum.value % 20 === 0", "value": 1}, "value": 0}, "gridWidth": {"condition": {"test": "datum.value % 20 === 0", "value": 1.8}, "value": 0.9}}},
            "y": {"field": "y", "type": "quantitative", "scale": {"domain": [-2.3, 70.5], "nice": false, "zero": false},
              "axis": {"title": null, "values": [0, 10, 20, 30, 40, 50, 60, 70], "labelExpr": "datum.value % 20 === 0 ? datum.label : ''", "tickOpacity": {"condition": {"test": "datum.value % 20 === 0", "value": 1}, "value": 0}, "gridWidth": {"condition": {"test": "datum.value % 20 === 0", "value": 1.8}, "value": 0.9}}},
            "color": {"field": "s", "type": "nominal", "scale": {"domain": ["RB", "SF"], "range": ["#ff6e54", "#003f5c"]}, "legend": {"labelExpr": "datum.label == 'RB' ? 'Roller Bottle' : 'Shake Flask'"}}
          }
        }
      },
      {
        "data": {"name": "labels"},
        "facet": {"row": {"field": "f", "type": "ordinal", "header": null}},
        "spacing": {"row": 17},
        "bounds": "flush",
        "spec": {
          "width": 132, "height": 90,
          "view": {"fill": "#D9D9D9", "stroke": "#333333", "strokeWidth": 1.8},
          "layer": [
            {"transform": [{"filter": "datum.f != 5"}], "mark": {"type": "text", "fontSize": 23, "lineBreak": "\n", "lineHeight": 29, "color": "#000000", "baseline": "middle", "dy": -14.5}, "encoding": {"text": {"field": "label", "type": "nominal"}}},
            {"transform": [{"filter": "datum.f == 5"}], "mark": {"type": "text", "fontSize": 23, "lineBreak": "\n", "lineHeight": 29, "color": "#000000", "baseline": "middle", "dy": -29}, "encoding": {"text": {"field": "label", "type": "nominal"}}}
          ]
        }
      }
    ]
  },
  {
    "title": {"text": "B", "anchor": "start", "frame": "bounds", "fontSize": 23, "fontWeight": "bold", "color": "#000000", "offset": -26},
    "spacing": -2,
    "hconcat": [
      {
        "data": {"name": "B"},
        "facet": {
          "row": {"field": "f", "type": "ordinal", "header": {"labels": false, "labelPadding": 0, "title": "CO₂ (mL)", "titlePadding": -2}},
          "column": {"field": "c", "type": "ordinal", "header": {"labels": false, "labelPadding": 0, "title": "Time (hr)", "titleOrient": "bottom", "titlePadding": -3}}
        },
        "spacing": {"row": 17, "column": 17},
        "bounds": "flush",
        "spec": {
          "width": 86, "height": 90,
          "mark": {"type": "line", "interpolate": "monotone", "strokeWidth": 2.8, "invalid": "break-paths-show-domains"},
          "encoding": {
            "x": {"field": "t", "type": "quantitative", "scale": {"domain": [-2.15, 45.15], "nice": false, "zero": false},
              "axis": {"title": null, "values": [0, 10, 20, 30, 40], "labelExpr": "datum.value % 20 === 0 ? datum.label : ''", "tickOpacity": {"condition": {"test": "datum.value % 20 === 0", "value": 1}, "value": 0}, "gridWidth": {"condition": {"test": "datum.value % 20 === 0", "value": 1.8}, "value": 0.9}}},
            "y": {"field": "y", "type": "quantitative", "scale": {"domain": [-2.2, 72.5], "nice": false, "zero": false},
              "axis": {"title": null, "values": [0, 10, 20, 30, 40, 50, 60, 70], "labelExpr": "datum.value % 20 === 0 ? datum.label : ''", "tickOpacity": {"condition": {"test": "datum.value % 20 === 0", "value": 1}, "value": 0}, "gridWidth": {"condition": {"test": "datum.value % 20 === 0", "value": 1.8}, "value": 0.9}}},
            "color": {"field": "s", "type": "nominal", "scale": {"domain": ["RB", "SF"], "range": ["#ff6e54", "#003f5c"]}, "legend": {"labelExpr": "datum.label == 'RB' ? 'Roller Bottle' : 'Shake Flask'"}}
          }
        }
      },
      {
        "data": {"name": "labels"},
        "facet": {"row": {"field": "f", "type": "ordinal", "header": null}},
        "spacing": {"row": 17},
        "bounds": "flush",
        "spec": {
          "width": 132, "height": 90,
          "view": {"fill": "#D9D9D9", "stroke": "#333333", "strokeWidth": 1.8},
          "layer": [
            {"transform": [{"filter": "datum.f != 5"}], "mark": {"type": "text", "fontSize": 23, "lineBreak": "\n", "lineHeight": 29, "color": "#000000", "baseline": "middle", "dy": -14.5}, "encoding": {"text": {"field": "label", "type": "nominal"}}},
            {"transform": [{"filter": "datum.f == 5"}], "mark": {"type": "text", "fontSize": 23, "lineBreak": "\n", "lineHeight": 29, "color": "#000000", "baseline": "middle", "dy": -29}, "encoding": {"text": {"field": "label", "type": "nominal"}}}
          ]
        }
      }
    ]
  }
],
"spacing": 44,
"resolve": {"scale": {"color": "independent", "x": "independent", "y": "independent"}, "legend": {"color": "independent"}}
}
